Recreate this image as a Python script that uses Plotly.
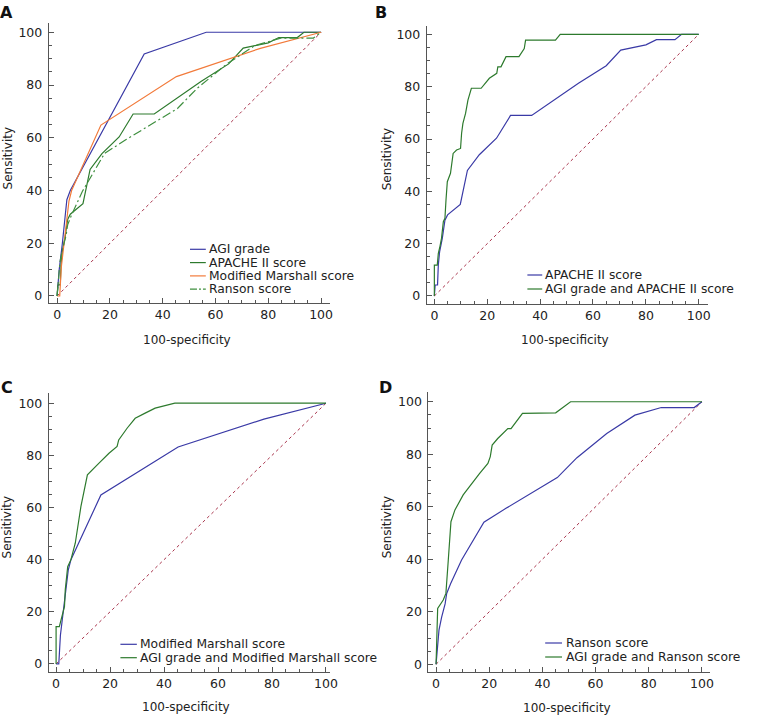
import plotly.graph_objects as go

# ---- ROC curves (100-specificity vs sensitivity) ----
agi_x = [0, 0.8, 2, 3, 3.7, 5, 33, 56.5, 93, 100]
agi_y = [0, 10, 20, 30, 36.5, 40, 91.8, 100, 100, 100]

apache_x = [0, 0.3, 1.2, 1.5, 2, 3, 4, 5, 9.8, 12.5, 17, 23.5, 28.8, 36.8, 54.5, 65, 70.5, 80, 84, 91, 93.5, 100]
apache_y = [0, 4.2, 4.2, 12, 17, 22, 29, 31, 35, 48, 54, 60.3, 69, 69, 81.3, 88, 94, 96, 98, 98, 100, 100]

marshall_x = [0, 1, 1.6, 3, 4.5, 5.5, 16.6, 45.2, 77, 100]
marshall_y = [0, 0, 11, 22.6, 36, 40, 64.8, 83.2, 93.9, 100]

ranson_x = [0, 0.5, 1.1, 2.1, 3.4, 4, 5.5, 9.6, 13.9, 18, 26.3, 45.6, 53, 64.2, 74.8, 84.7, 97.1, 100]
ranson_y = [0, 6.7, 13, 18, 23, 27, 30.8, 39.7, 47.3, 54.1, 59.4, 71.1, 78.7, 87.9, 94.9, 97.8, 97.8, 100]

agi_apache_x = [0, 0, 1.1, 1.5, 2.1, 2.7, 3.4, 4, 4.4, 4.9, 6.1, 7.1, 8.4, 9.9, 10.3, 10.8, 11.8, 12.7,
                14, 17.7, 20.8, 23.6, 24, 25.2, 27.1, 32, 34, 34.5, 45.8, 47.6, 100]
agi_apache_y = [0, 11.8, 11.8, 16.3, 18.9, 22, 28.4, 29.7, 36.7, 43.7, 46.9, 54.5, 55.8, 56.4, 62.2, 66,
                69.8, 74.9, 79.4, 79.4, 83.2, 85.1, 87.6, 87.6, 91.5, 91.5, 94.6, 97.8, 97.8, 100, 100]

agi_marshall_x = [0, 0, 1.2, 1.8, 3.1, 3.4, 4.3, 5.5, 7.1, 9.2, 11.6, 15.9, 19.6, 22.6, 23.2, 26.3,
                  29.3, 33, 36.7, 44, 100]
agi_marshall_y = [0, 14.3, 14.3, 16.9, 22, 28.4, 37.3, 40, 46.3, 60.4, 72.5, 77, 80.8, 83.4, 85.9,
                  90.4, 94.2, 96.2, 98.1, 100, 100]

agi_ranson_x = [0, 0.6, 2.7, 3.7, 4.6, 5.6, 7.1, 10.2, 16.4, 19.5, 20.4, 21.1, 23.2, 27, 28.2, 32.5,
                45, 50.6, 100]
agi_ranson_y = [0, 21.3, 24.5, 27, 39.7, 54.3, 58.8, 64.5, 72.7, 76.5, 79.1, 83.5, 86, 89.8, 89.8,
                95.6, 95.8, 100, 100]

ref_x = [0, 100]
ref_y = [0, 100]

BLUE = "#3a3aa6"
GREEN = "#2d7a2d"
GREEN2 = "#3f8f3f"
ORANGE = "#f27a3a"
RED = "#a8344c"
FONT = "DejaVu Sans"
W, H = 758, 722

# panel box in pixels: left, right, top, bottom ; data ranges
panels = [
    ("A", (49.3, 333.3, 23.3, 303.3), [-3.15, 103.3], [-2.77, 103.4]),
    ("B", (431.3, 715.3, 26, 304), [-2.88, 103.4], [-3.06, 103.2]),
    ("C", (49.3, 333.3, 393.3, 672.3), [-2.71, 101.4], [-3.2, 103.8]),
    ("D", (433, 718, 392.3, 672.3), [-2.87, 103.2], [-3.05, 103.6]),
]

series = {
    "A": [("AGI grade", agi_x, agi_y, BLUE, "solid"),
          ("APACHE II score", apache_x, apache_y, GREEN, "solid"),
          ("Modified Marshall score", marshall_x, marshall_y, ORANGE, "solid"),
          ("Ranson score", ranson_x, ranson_y, GREEN2, "9px,3px,2px,3px")],
    "B": [("APACHE II score", apache_x, apache_y, BLUE, "solid"),
          ("AGI grade and APACHE II score", agi_apache_x, agi_apache_y, GREEN, "solid")],
    "C": [("Modified Marshall score", marshall_x, marshall_y, BLUE, "solid"),
          ("AGI grade and Modified Marshall score", agi_marshall_x, agi_marshall_y, GREEN, "solid")],
    "D": [("Ranson score", ranson_x, ranson_y, BLUE, "solid"),
          ("AGI grade and Ranson score", agi_ranson_x, agi_ranson_y, GREEN, "solid")],
}

# legend placement (pixels): line x0, x1, text x, first row y, row step
legend_pos = {
    "A": (192, 208, 209, 249.3, 13.3),
    "B": (533, 548, 549, 275, 14),
    "C": (121.7, 138.3, 139.5, 644.3, 13.4),
    "D": (551, 568, 570, 643, 14),
}
# axis titles (pixels): sensitivity x, y ; specificity x, y ; letter x, y
titles = {
    "A": (8.5, 158, 189, 340, 7, 12.5),
    "B": (391.5, 159, 571, 340, 385, 12.5),
    "C": (7.5, 527, 188, 706.5, 7, 387.5),
    "D": (391.5, 527, 573, 708, 390, 387.5),
}

fig = go.Figure()
shapes = []
annotations = []

for i, (letter, (l, r, t, b), xr, yr) in enumerate(panels):
    n = "" if i == 0 else str(i + 1)
    xa, ya = "x" + n, "y" + n

    fig.add_trace(go.Scatter(x=ref_x, y=ref_y, mode="lines", xaxis=xa, yaxis=ya,
                             line=dict(color=RED, width=1, dash="3px,3px"),
                             showlegend=False, hoverinfo="skip"))
    for name, xs, ys, color, dash in series[letter]:
        fig.add_trace(go.Scatter(x=xs, y=ys, mode="lines", name=name, xaxis=xa, yaxis=ya,
                                 line=dict(color=color, width=1.2, dash=dash),
                                 showlegend=False))

    axis_common = dict(showline=True, linecolor="#555", linewidth=1, showgrid=False,
                       zeroline=False, ticks="inside", ticklen=5, tickcolor="#555",
                       tick0=0, dtick=20,
                       minor=dict(ticks="inside", ticklen=3, dtick=5, tickcolor="#555"),
                       tickfont=dict(family=FONT, size=12.5, color="#222"))
    fig.layout["xaxis" + n] = dict(axis_common, domain=[l / W, r / W], range=xr,
                                   anchor=ya)
    fig.layout["yaxis" + n] = dict(axis_common, domain=[1 - b / H, 1 - t / H], range=yr,
                                   anchor=xa, ticklabelstandoff=3)

    # legend drawn by hand (short key lines)
    x0, x1, tx, y0, step = legend_pos[letter]
    for k, (name, xs, ys, color, dash) in enumerate(series[letter]):
        yy = y0 + k * step
        shapes.append(dict(type="line", xref="paper", yref="paper",
                           x0=x0 / W, x1=x1 / W, y0=1 - yy / H, y1=1 - yy / H,
                           line=dict(color=color, width=1.2,
                                     dash="7px,2px,2px,2px" if dash != "solid" else "solid")))
        annotations.append(dict(text=name, xref="paper", yref="paper", x=tx / W, y=1 - yy / H,
                                xanchor="left", yanchor="middle", showarrow=False,
                                font=dict(family=FONT, size=12.3, color="#222")))

    sx, sy, px, py, lx, ly = titles[letter]
    annotations.append(dict(text="Sensitivity", xref="paper", yref="paper", x=sx / W, y=1 - sy / H,
                            xanchor="center", yanchor="middle", textangle=-90, showarrow=False,
                            font=dict(family=FONT, size=12, color="#222")))
    annotations.append(dict(text="100-specificity", xref="paper", yref="paper", x=px / W,
                            y=1 - py / H, xanchor="center", yanchor="middle", showarrow=False,
                            font=dict(family=FONT, size=12, color="#222")))
    annotations.append(dict(text="<b>" + letter + "</b>", xref="paper", yref="paper", x=lx / W,
                            y=1 - ly / H, xanchor="center", yanchor="middle", showarrow=False,
                            font=dict(family=FONT, size=16, color="#111")))

fig.update_layout(width=W, height=H, margin=dict(l=0, r=0, t=0, b=0),
                  paper_bgcolor="white", plot_bgcolor="white",
                  shapes=shapes, annotations=annotations, showlegend=False)

# the page's default body margin would push the figure 8px off
fig.write_html("out.html", config={"displayModeBar": False},
               post_script="document.body.style.margin='0';")
